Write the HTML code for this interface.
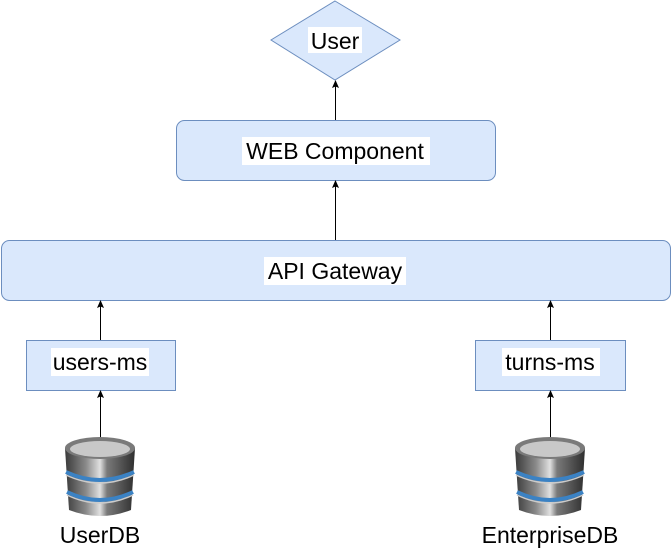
<!DOCTYPE html>
<html><head><meta charset="utf-8"><style>
html,body{margin:0;padding:0;background:#fff;width:672px;height:552px;overflow:hidden}
text{font-family:"Liberation Sans",sans-serif;font-size:23px;fill:#000}
</style></head><body>
<svg width="672" height="552" viewBox="0 0 672 552" xmlns="http://www.w3.org/2000/svg">
<defs>
<linearGradient id="g" x1="0" x2="1" y1="0" y2="0">
<stop offset="0" stop-color="#3a3a3a"/><stop offset="0.3" stop-color="#8a8a8a"/><stop offset="0.5" stop-color="#e0e0e0"/><stop offset="0.6" stop-color="#7a7a7a"/><stop offset="1" stop-color="#2e2e2e"/></linearGradient>
<g id="db">
<path d="M-35,-30 L-31,32 Q0,44 31,32 L35,-30 Z" fill="url(#g)"/>
<ellipse cx="0" cy="-30" rx="35" ry="11" fill="#7a7a7a"/>
<ellipse cx="0" cy="-29" rx="30" ry="8" fill="#c8c8c8"/>
<path d="M-34,-6 Q0,10 34,-6" stroke="#3b82c4" stroke-width="4" fill="none"/>
<path d="M-33,14 Q0,30 33,14" stroke="#3b82c4" stroke-width="4" fill="none"/>
<path d="M-34,-3 Q0,13 34,-3" stroke="#ccc" stroke-width="1.5" fill="none"/>
<path d="M-33,17 Q0,33 33,17" stroke="#ccc" stroke-width="1.5" fill="none"/>
</g>
<path id="ah" d="M-3.5,8 L0,0 L3.5,8 L0,6.5 Z" fill="#000"/>
</defs>
<polygon points="335,1 400,40 335,80 271,40" fill="#dae8fc" stroke="#6c8ebf"/>
<rect x="308" y="27" width="54" height="26" fill="#fff"/>
<text x="335" y="49" text-anchor="middle">User</text>
<rect x="176.5" y="120.5" width="319" height="60" rx="8" fill="#dae8fc" stroke="#6c8ebf"/>
<rect x="242" y="137" width="188" height="28" fill="#fff"/>
<text x="335" y="159" text-anchor="middle">WEB Component</text>
<rect x="1.5" y="240.5" width="669" height="60" rx="8" fill="#dae8fc" stroke="#6c8ebf"/>
<rect x="264" y="257" width="142" height="28" fill="#fff"/>
<text x="335" y="279" text-anchor="middle">API Gateway</text>
<rect x="26.5" y="340.5" width="149" height="50" fill="#dae8fc" stroke="#6c8ebf"/>
<rect x="51" y="348" width="98" height="28" fill="#fff"/>
<text x="100" y="370" text-anchor="middle">users-ms</text>
<rect x="475.5" y="340.5" width="150" height="50" fill="#dae8fc" stroke="#6c8ebf"/>
<rect x="502" y="348" width="98" height="28" fill="#fff"/>
<text x="550" y="370" text-anchor="middle">turns-ms</text>
<g stroke="#000" stroke-width="1">
<line x1="335.5" y1="120" x2="335.5" y2="86"/>
<line x1="335.5" y1="240" x2="335.5" y2="186"/>
<line x1="100.5" y1="340" x2="100.5" y2="306"/>
<line x1="550.5" y1="340" x2="550.5" y2="306"/>
<line x1="100.5" y1="438" x2="100.5" y2="396"/>
<line x1="550.5" y1="438" x2="550.5" y2="396"/>
</g>
<use href="#ah" x="335.5" y="80"/>
<use href="#ah" x="335.5" y="180"/>
<use href="#ah" x="100.5" y="300"/>
<use href="#ah" x="550.5" y="300"/>
<use href="#ah" x="100.5" y="390"/>
<use href="#ah" x="550.5" y="390"/>
<use href="#db" x="100" y="478"/>
<use href="#db" x="550" y="478"/>
<text x="100" y="543" text-anchor="middle">UserDB</text>
<text x="550" y="543" text-anchor="middle">EnterpriseDB</text>
</svg>
</body></html>
